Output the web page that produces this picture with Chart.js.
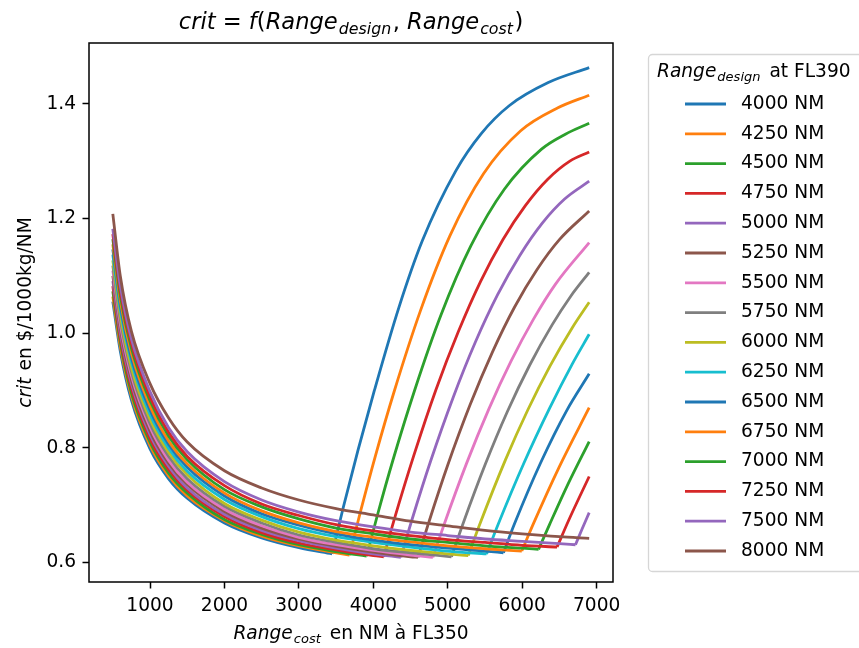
<!DOCTYPE html>
<html>
<head>
<meta charset="utf-8">
<script src="https://cdn.jsdelivr.net/npm/chart.js@4.4.0/dist/chart.umd.min.js"></script>
<style>
  html, body { margin: 0; padding: 0; background: #fff; }
  #wrap { position: relative; width: 859px; height: 648px; }
</style>
</head>
<body>
<div id="wrap"><canvas id="critChart" width="859" height="648"></canvas></div>
<script>
// ============================================================
// DONNÉES
// ============================================================
const rangeDesign = [4000, 4250, 4500, 4750, 5000, 5250, 5500, 5750, 6000, 6250, 6500, 6750, 7000, 7250, 7500, 8000];
const xTicks = [1000, 2000, 3000, 4000, 5000, 6000, 7000];
const yTicks = [0.6, 0.8, 1.0, 1.2, 1.4];

const cost4000 = [500, 600, 750, 1000, 1250, 1500, 2000, 2500, 3000, 3446, 3596, 3796, 4014, 4344, 4658, 5108, 5450, 5829, 6350, 6900];
const crit4000 = [1.055, 0.969, 0.883, 0.798, 0.746, 0.712, 0.669, 0.643, 0.626, 0.615, 0.696, 0.797, 0.900, 1.045, 1.161, 1.283, 1.348, 1.397, 1.437, 1.463];
const cost4250 = [500, 600, 750, 1000, 1250, 1500, 2000, 2500, 3000, 3500, 3680, 3830, 4030, 4284, 4630, 5030, 5480, 5980, 6480, 6900];
const crit4250 = [1.064, 0.977, 0.890, 0.804, 0.751, 0.716, 0.673, 0.646, 0.629, 0.617, 0.613, 0.690, 0.787, 0.900, 1.038, 1.170, 1.278, 1.353, 1.393, 1.415];
const cost4500 = [500, 600, 750, 1000, 1250, 1500, 2000, 2500, 3000, 3500, 3910, 4060, 4260, 4554, 4910, 5310, 5760, 6260, 6580, 6900];
const crit4500 = [1.073, 0.985, 0.896, 0.810, 0.756, 0.721, 0.675, 0.649, 0.631, 0.619, 0.611, 0.685, 0.777, 0.900, 1.032, 1.152, 1.251, 1.321, 1.347, 1.366];
const cost4750 = [500, 600, 750, 1000, 1250, 1500, 2000, 2500, 3000, 3500, 4000, 4140, 4290, 4540, 4840, 5140, 5440, 5740, 6040, 6340, 6640, 6900];
const crit4750 = [1.082, 0.992, 0.904, 0.816, 0.762, 0.726, 0.680, 0.652, 0.634, 0.622, 0.612, 0.610, 0.679, 0.785, 0.901, 1.002, 1.090, 1.163, 1.222, 1.268, 1.300, 1.316];
const cost5000 = [500, 600, 750, 1000, 1250, 1500, 2000, 2500, 3000, 3500, 4000, 4370, 4520, 4770, 5070, 5370, 5670, 5970, 6270, 6570, 6900];
const crit5000 = [1.091, 1.000, 0.912, 0.823, 0.768, 0.730, 0.684, 0.656, 0.638, 0.625, 0.615, 0.609, 0.675, 0.777, 0.887, 0.984, 1.067, 1.136, 1.192, 1.234, 1.265];
const cost5250 = [500, 600, 750, 1000, 1250, 1500, 2000, 2500, 3000, 3500, 4000, 4500, 4600, 4750, 5000, 5300, 5600, 5900, 6200, 6500, 6900];
const crit5250 = [1.100, 1.008, 0.918, 0.829, 0.773, 0.736, 0.689, 0.660, 0.641, 0.628, 0.618, 0.610, 0.609, 0.672, 0.770, 0.875, 0.967, 1.046, 1.111, 1.163, 1.213];
const cost5500 = [500, 600, 750, 1000, 1250, 1500, 2000, 2500, 3000, 3500, 4000, 4500, 4800, 4950, 5250, 5550, 5850, 6150, 6450, 6900];
const crit5500 = [1.109, 1.016, 0.926, 0.836, 0.778, 0.740, 0.693, 0.664, 0.644, 0.631, 0.621, 0.613, 0.609, 0.666, 0.772, 0.867, 0.951, 1.024, 1.086, 1.158];
const cost5750 = [500, 600, 750, 1000, 1250, 1500, 2000, 2500, 3000, 3500, 4000, 4500, 5050, 5200, 5500, 5800, 6100, 6400, 6650, 6900];
const crit5750 = [1.118, 1.024, 0.933, 0.842, 0.785, 0.746, 0.698, 0.669, 0.648, 0.635, 0.624, 0.617, 0.610, 0.666, 0.770, 0.863, 0.944, 1.014, 1.064, 1.106];
const cost6000 = [500, 600, 750, 1000, 1250, 1500, 2000, 2500, 3000, 3500, 4000, 4500, 5000, 5275, 5425, 5775, 6075, 6375, 6675, 6900];
const crit6000 = [1.127, 1.032, 0.940, 0.850, 0.792, 0.753, 0.703, 0.674, 0.653, 0.639, 0.629, 0.621, 0.615, 0.612, 0.665, 0.779, 0.866, 0.943, 1.010, 1.054];
const cost6250 = [500, 600, 750, 1000, 1250, 1500, 2000, 2500, 3000, 3500, 4000, 4500, 5000, 5522, 5672, 6022, 6372, 6672, 6900];
const crit6250 = [1.137, 1.041, 0.950, 0.858, 0.799, 0.759, 0.710, 0.680, 0.659, 0.645, 0.635, 0.627, 0.620, 0.615, 0.665, 0.773, 0.870, 0.946, 0.998];
const cost6500 = [500, 600, 750, 1000, 1250, 1500, 2000, 2500, 3000, 3500, 4000, 4500, 5000, 5500, 5748, 5898, 6248, 6598, 6900];
const crit6500 = [1.146, 1.050, 0.957, 0.866, 0.806, 0.766, 0.716, 0.685, 0.665, 0.650, 0.639, 0.631, 0.625, 0.620, 0.617, 0.668, 0.774, 0.865, 0.929];
const cost6750 = [500, 600, 750, 1000, 1250, 1500, 2000, 2500, 3000, 3500, 4000, 4500, 5000, 5500, 5995, 6145, 6495, 6900];
const crit6750 = [1.155, 1.057, 0.965, 0.873, 0.812, 0.772, 0.721, 0.690, 0.669, 0.654, 0.644, 0.636, 0.629, 0.624, 0.620, 0.666, 0.766, 0.870];
const cost7000 = [500, 600, 750, 1000, 1250, 1500, 2000, 2500, 3000, 3500, 4000, 4500, 5000, 5500, 6000, 6220, 6370, 6620, 6900];
const crit7000 = [1.164, 1.066, 0.974, 0.882, 0.820, 0.779, 0.727, 0.697, 0.676, 0.660, 0.650, 0.641, 0.635, 0.629, 0.625, 0.623, 0.667, 0.738, 0.811];
const cost7250 = [500, 600, 750, 1000, 1250, 1500, 2000, 2500, 3000, 3500, 4000, 4500, 5000, 5500, 6000, 6469, 6619, 6900];
const crit7250 = [1.173, 1.074, 0.982, 0.889, 0.827, 0.785, 0.734, 0.702, 0.682, 0.666, 0.655, 0.647, 0.640, 0.635, 0.630, 0.627, 0.672, 0.750];
const cost7500 = [500, 600, 750, 1000, 1250, 1500, 2000, 2500, 3000, 3500, 4000, 4500, 5000, 5500, 6000, 6500, 6716, 6806, 6900];
const crit7500 = [1.182, 1.083, 0.990, 0.898, 0.835, 0.793, 0.741, 0.709, 0.688, 0.673, 0.662, 0.653, 0.647, 0.641, 0.637, 0.633, 0.631, 0.659, 0.687];
const cost8000 = [500, 600, 750, 1000, 1250, 1500, 2000, 2500, 3000, 3500, 4000, 4500, 5000, 5500, 6000, 6500, 6900];
const crit8000 = [1.208, 1.100, 1.003, 0.912, 0.852, 0.810, 0.760, 0.730, 0.709, 0.694, 0.683, 0.672, 0.664, 0.656, 0.650, 0.645, 0.642];

const costSeries = [cost4000, cost4250, cost4500, cost4750, cost5000, cost5250, cost5500, cost5750,
                    cost6000, cost6250, cost6500, cost6750, cost7000, cost7250, cost7500, cost8000];
const critSeries = [crit4000, crit4250, crit4500, crit4750, crit5000, crit5250, crit5500, crit5750,
                    crit6000, crit6250, crit6500, crit6750, crit7000, crit7250, crit7500, crit8000];

// couleurs matplotlib (tab10, cycle)
const tab10 = ['#1f77b4', '#ff7f0e', '#2ca02c', '#d62728', '#9467bd',
               '#8c564b', '#e377c2', '#7f7f7f', '#bcbd22', '#17becf'];

// ============================================================
// TEXTE "MATHTEXT" (italique + indices)
// ============================================================
const FONT = '"DejaVu Sans"';

function partFont(p, size) {
    return (p.it ? 'italic ' : '') + (p.sub ? size * 0.7 : size) + 'px ' + FONT;
}

function drawRich(ctx, parts, x, y, size, align) {
    const widths = parts.map(function(p) {
        ctx.font = partFont(p, size);
        return ctx.measureText(p.t).width + (p.gap || 0);
    });
    const total = widths.reduce(function(s, w) { return s + w; }, 0);
    let cx = align === 'left' ? x : x - total / 2;
    ctx.textAlign = 'left';
    ctx.textBaseline = 'alphabetic';
    parts.forEach(function(p, i) {
        ctx.font = partFont(p, size);
        ctx.fillText(p.t, cx, y + (p.sub ? size * 0.22 : 0));
        cx += widths[i];
    });
}

const titleParts = [
    {t: 'crit', it: true}, {t: ' = '}, {t: 'f', it: true}, {t: '('},
    {t: 'Range', it: true, gap: 1}, {t: 'design', it: true, sub: true, gap: 1.5}, {t: ', '},
    {t: 'Range', it: true, gap: 1}, {t: 'cost', it: true, sub: true, gap: 1.5}, {t: ')'}
];
const xLabelParts = [{t: 'Range', it: true, gap: 1}, {t: 'cost', it: true, sub: true, gap: 3}, {t: ' en NM à FL350'}];
const yLabelParts = [{t: 'crit', it: true, gap: 1}, {t: ' en $/1000kg/NM'}];
const legendTitleParts = [{t: 'Range', it: true, gap: 1}, {t: 'design', it: true, sub: true, gap: 3}, {t: ' at FL390'}];

// ============================================================
// DÉCOR : cadre, titres, légende
// ============================================================
const decorPlugin = {
    id: 'decor',
    afterDraw: function(chart) {
        const ctx = chart.ctx;
        const a = chart.chartArea;
        ctx.save();
        ctx.fillStyle = '#000';

        // cadre
        ctx.strokeStyle = '#000';
        ctx.lineWidth = 1.5;
        ctx.strokeRect(a.left, a.top, a.right - a.left, a.bottom - a.top);

        // titres
        drawRich(ctx, titleParts, (a.left + a.right) / 2, 29, 22.6, 'center');
        drawRich(ctx, xLabelParts, (a.left + a.right) / 2, 639, 18.6, 'center');

        ctx.save();
        ctx.translate(31, (a.top + a.bottom) / 2);
        ctx.rotate(-Math.PI / 2);
        drawRich(ctx, yLabelParts, 0, 0, 18.6, 'center');
        ctx.restore();

        // légende
        const lx = 648.5, ly = 54.5, lw = 260, lh = 517, r = 4;
        ctx.beginPath();
        ctx.moveTo(lx + r, ly);
        ctx.lineTo(lx + lw, ly);
        ctx.lineTo(lx + lw, ly + lh);
        ctx.lineTo(lx + r, ly + lh);
        ctx.arcTo(lx, ly + lh, lx, ly + lh - r, r);
        ctx.lineTo(lx, ly + r);
        ctx.arcTo(lx, ly, lx + r, ly, r);
        ctx.closePath();
        ctx.fillStyle = 'rgba(255,255,255,0.8)';
        ctx.fill();
        ctx.strokeStyle = '#d6d6d6';
        ctx.lineWidth = 1.3;
        ctx.stroke();

        ctx.fillStyle = '#000';
        drawRich(ctx, legendTitleParts, 657, 77, 18.6, 'left');

        rangeDesign.forEach(function(rd, i) {
            const y = 104 + 29.8 * i;
            ctx.strokeStyle = tab10[i % tab10.length];
            ctx.lineWidth = 2.8;
            ctx.beginPath();
            ctx.moveTo(685, y);
            ctx.lineTo(726, y);
            ctx.stroke();
            ctx.fillStyle = '#000';
            ctx.font = '18.6px ' + FONT;
            ctx.textAlign = 'left';
            ctx.textBaseline = 'middle';
            ctx.fillText(rd + ' NM', 741, y);
        });
        ctx.restore();
    }
};

// ============================================================
// GRAPHIQUE : chaque courbe = branche descendante + branche montante
// ============================================================
const datasets = [];
rangeDesign.forEach(function(rd, i) {
    const xs = costSeries[i];
    const ys = critSeries[i];
    let iMin = 0;
    ys.forEach(function(v, j) { if (v < ys[iMin]) { iMin = j; } });
    const pts = xs.map(function(x, j) { return {x: x, y: ys[j]}; });
    const branches = [pts.slice(0, iMin + 1)];
    if (iMin < pts.length - 1) { branches.push(pts.slice(iMin)); }
    branches.forEach(function(br) {
        datasets.push({
            label: rd + ' NM',
            data: br,
            borderColor: tab10[i % tab10.length],
            backgroundColor: tab10[i % tab10.length],
            borderWidth: 2.8,
            borderJoinStyle: 'round',
            pointRadius: 0,
            showLine: true,
            cubicInterpolationMode: 'monotone',
            order: rangeDesign.length - i
        });
    });
});

const tickFont = {family: 'DejaVu Sans', size: 18.6};

new Chart(document.getElementById('critChart').getContext('2d'), {
    type: 'scatter',
    data: {datasets: datasets},
    options: {
        responsive: false,
        animation: false,
        devicePixelRatio: 1,
        layout: {padding: {left: 0, right: 246, top: 43, bottom: 0}},
        plugins: {
            legend: {display: false},
            title: {display: false},
            tooltip: {enabled: false}
        },
        scales: {
            x: {
                type: 'linear',
                min: 180,
                max: 7220,
                border: {display: false},
                grid: {drawOnChartArea: false, tickLength: 6.5, tickWidth: 1.5, tickColor: '#000'},
                ticks: {font: tickFont, color: '#000', padding: 6.5, maxRotation: 0,
                        callback: function(v) { return String(v); }},
                afterBuildTicks: function(s) { s.ticks = xTicks.map(function(v) { return {value: v}; }); },
                afterFit: function(s) { s.height = 66; }
            },
            y: {
                type: 'linear',
                min: 0.566,
                max: 1.506,
                border: {display: false},
                grid: {drawOnChartArea: false, tickLength: 6.5, tickWidth: 1.5, tickColor: '#000'},
                ticks: {font: tickFont, color: '#000', padding: 6.5,
                        callback: function(v) { return v.toFixed(1); }},
                afterBuildTicks: function(s) { s.ticks = yTicks.map(function(v) { return {value: v}; }); },
                afterFit: function(s) { s.width = 89; }
            }
        }
    },
    plugins: [decorPlugin]
});
</script>
</body>
</html>
